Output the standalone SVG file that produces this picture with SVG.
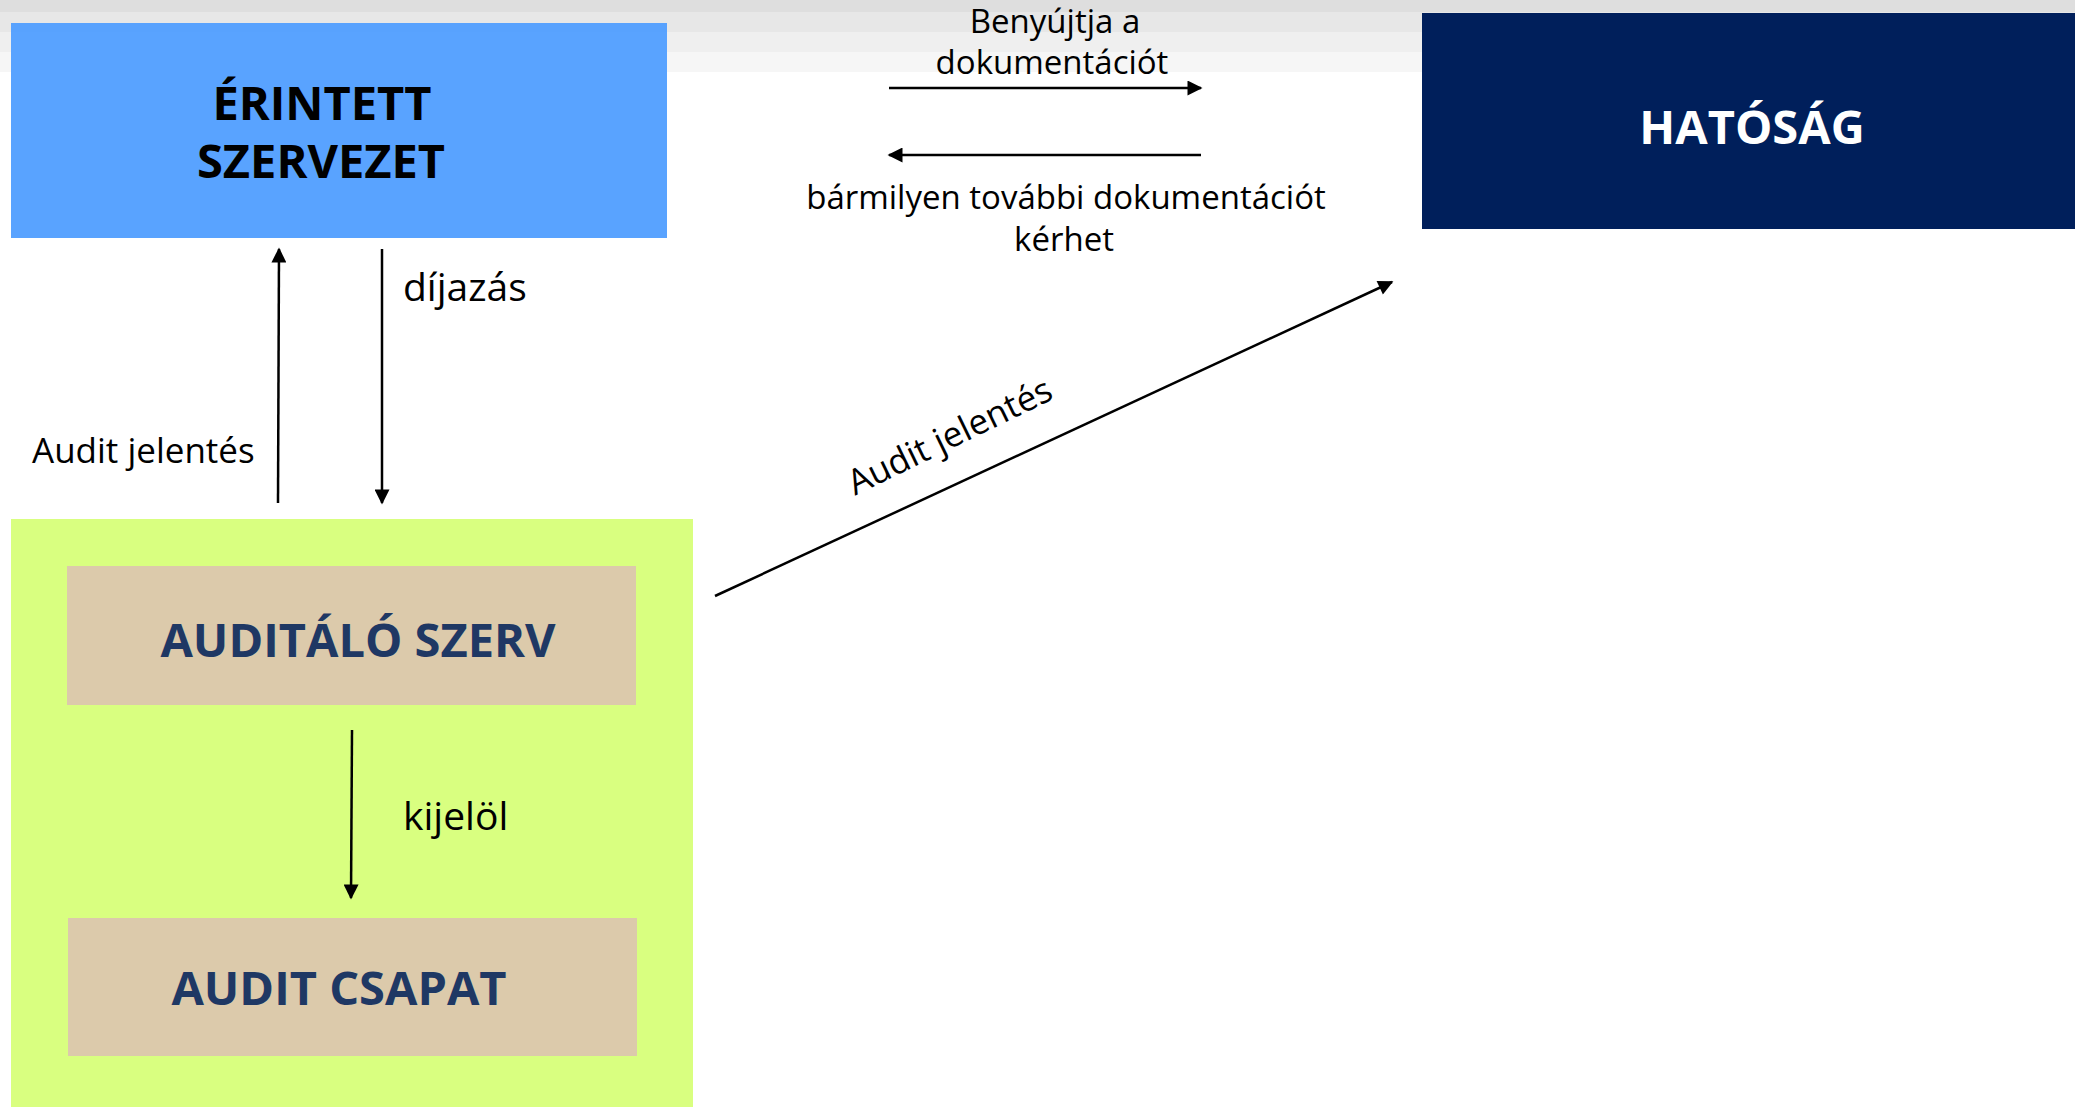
<svg xmlns="http://www.w3.org/2000/svg" width="2075" height="1107" viewBox="0 0 2075 1107">
<defs>
<style>
.lbl{font-family:"Open Sans","Liberation Sans",sans-serif;fill:#000}
.s33{font-size:33px}
.s35{font-size:35px}
.s39{font-size:39px}
.title{font-family:"Open Sans","Liberation Sans",sans-serif;font-size:47px;font-weight:700;text-anchor:middle}
.conn{stroke:#000;stroke-width:2.5;fill:none;marker-end:url(#ah)}
</style>
<marker id="ah" viewBox="0 0 10 10" refX="9" refY="5" markerWidth="7" markerHeight="6" orient="auto" markerUnits="strokeWidth">
<path d="M0,0 L10,5 L0,10 Z" fill="#000"/>
</marker>
</defs>
<rect x="0" y="0" width="2075" height="1107" fill="#fff"/>
<g id="background-bands">
<rect x="0" y="0" width="2075" height="12" fill="#dedede"/>
<rect x="0" y="12" width="2075" height="20" fill="#e7e7e7"/>
<rect x="0" y="32" width="2075" height="20" fill="#efefef"/>
<rect x="0" y="52" width="2075" height="20" fill="#f6f6f6"/>
</g>
<g id="erintett-szervezet">
<rect x="11" y="23" width="656" height="215" fill="#509eff" fill-opacity="0.95"/>
<text class="title" x="322" y="120" fill="#000">ÉRINTETT</text>
<text class="title" x="321" y="178" fill="#000">SZERVEZET</text>
</g>
<g id="hatosag">
<rect x="1422" y="13" width="653" height="216" fill="#001f5b"/>
<text class="title" x="1752" y="144" fill="#fff">HATÓSÁG</text>
</g>
<g id="auditalo-csoport">
<rect x="11" y="519" width="682" height="588" fill="#d9ff80"/>
</g>
<g id="auditalo-szerv">
<rect x="67" y="566" width="569" height="139" fill="#dccaab"/>
<text class="title" x="358" y="657" fill="#1f3864">AUDITÁLÓ SZERV</text>
</g>
<g id="audit-csapat">
<rect x="68" y="918" width="569" height="138" fill="#dccaab"/>
<text class="title" x="339" y="1005" fill="#1f3864">AUDIT CSAPAT</text>
</g>
<g id="connectors">
<line class="conn" x1="889" y1="88" x2="1201" y2="88"/>
<line class="conn" x1="1201" y1="155" x2="889" y2="155"/>
<line class="conn" x1="278" y1="503" x2="279" y2="249"/>
<line class="conn" x1="382" y1="249" x2="382" y2="503"/>
<line class="conn" x1="715" y1="596" x2="1392" y2="282"/>
<line class="conn" x1="352" y1="730" x2="351" y2="898"/>
</g>
<g id="labels">
<text class="lbl s33" x="1055" y="33" text-anchor="middle">Benyújtja a</text>
<text class="lbl s33" x="1052" y="74" text-anchor="middle">dokumentációt</text>
<text class="lbl s33" x="1066" y="209" text-anchor="middle">bármilyen további dokumentációt</text>
<text class="lbl s33" x="1064" y="251" text-anchor="middle">kérhet</text>
<text class="lbl s39" x="403" y="301">díjazás</text>
<text class="lbl s35" x="32" y="463">Audit jelentés</text>
<text class="lbl s39" x="403" y="830">kijelöl</text>
<text class="lbl s35" x="955" y="447" text-anchor="middle" transform="rotate(-26 955 447)">Audit jelentés</text>
</g>
</svg>
